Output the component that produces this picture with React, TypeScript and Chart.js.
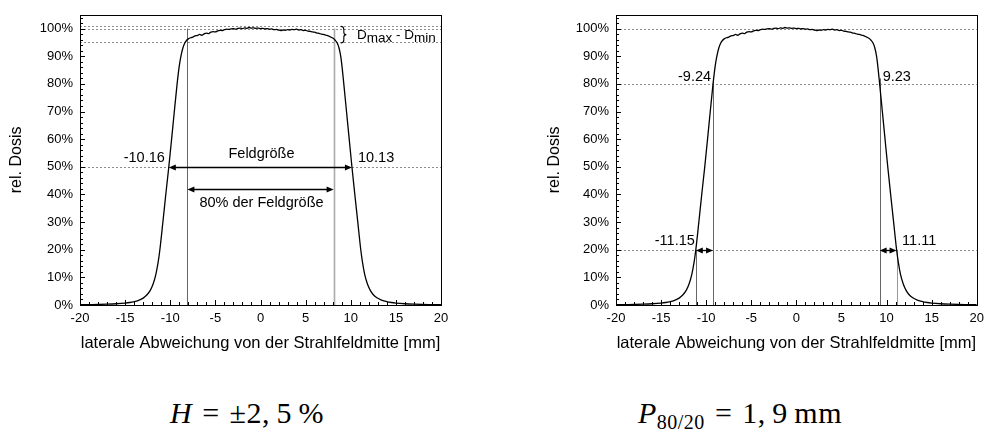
import React, { useEffect, useRef } from 'react';
import { Chart, registerables } from 'chart.js';

Chart.register(...registerables);

// ---- data -------------------------------------------------------------
const profileX = [
  -20, -19, -18, -17, -16, -15, -14.5, -14, -13.5, -13,
  -12.6, -12.2, -11.9, -11.6, -11.35, -11.15, -10.8, -10.5, -10.16, -9.85,
  -9.55, -9.24, -9.0, -8.8, -8.6, -8.4, -8.2, -8.0, -7.75, -7.5,
  -7.25, -7.0, -6.75, -6.5, -6.25, -6.0, -5.75, -5.5, -5.25, -5.0,
  -4.75, -4.5, -4.25, -4.0, -3.75, -3.5, -3.25, -3.0, -2.75, -2.5,
  -2.25, -2.0, -1.75, -1.5, -1.25, -1.0, -0.75, -0.5, -0.25, 0,
  0.25, 0.5, 0.75, 1.0, 1.25, 1.5, 1.75, 2.0, 2.25, 2.5,
  2.75, 3.0, 3.25, 3.5, 3.75, 4.0, 4.25, 4.5, 4.75, 5.0,
  5.25, 5.5, 5.75, 6.0, 6.25, 6.5, 6.75, 7.0, 7.25, 7.5,
  7.75, 8.0, 8.25, 8.5, 8.7, 8.9, 9.05, 9.23, 9.53, 9.83,
  10.13, 10.45, 10.78, 11.11, 11.3, 11.55, 11.85, 12.15, 12.5, 12.9,
  13.4, 14, 14.5, 15, 16, 17, 18, 19, 20,
];
const profileY = [
  0.1, 0.15, 0.2, 0.3, 0.45, 0.7, 0.9, 1.2, 1.7, 2.5,
  3.6, 5.4, 7.6, 11, 15.3, 20, 30.5, 39.8, 50, 60,
  70, 80, 86.5, 90.3, 93, 94.7, 95.7, 96.3, 96.7, 96.9,
  97.4, 97.5, 97.9, 97.6, 98.1, 98.4, 98.2, 98.7, 98.9, 98.8,
  99.2, 99.4, 99.3, 99.6, 99.8, 99.7, 99.9, 100.0, 99.8, 100.1,
  100.2, 100.0, 100.3, 100.1, 100.4, 100.2, 100.3, 100.1, 100.2, 100.0,
  100.1, 99.9, 100.0, 99.8, 99.9, 99.6, 99.7, 99.5, 99.3, 99.5,
  99.4, 99.6, 99.5, 99.7, 99.6, 99.8, 99.5, 99.6, 99.3, 99.4,
  99.1, 99.0, 98.8, 98.7, 98.4, 98.3, 98.0, 97.9, 97.6, 97.4,
  97.0, 96.6, 95.9, 94.8, 93.0, 89.8, 85.8, 80, 70, 60,
  50, 40, 30, 20, 15.5, 11, 7.6, 5.4, 3.7, 2.6,
  1.8, 1.2, 0.9, 0.7, 0.45, 0.3, 0.2, 0.15, 0.1,
];

const xTickValues = [-20, -15, -10, -5, 0, 5, 10, 15, 20];
const yTickValues = [0, 10, 20, 30, 40, 50, 60, 70, 80, 90, 100];

// annotation values
const fieldEdges50 = [-10.16, 10.13]; // 50 % -> Feldgröße
const innerField80 = [-8.1, 8.1]; // 80 % der Feldgröße
const dMaxLevel = 100.8;
const dMinLevel = 95;
const penumbra80 = [-9.24, 9.23];
const penumbra20 = [-11.15, 11.11];
const fieldLabels = ['-10.16', '10.13'];
const penumbra80Labels = ['-9.24', '9.23'];
const penumbra20Labels = ['-11.15', '11.11'];

const xTitle = 'laterale Abweichung von der Strahlfeldmitte [mm]';
const yTitle = 'rel. Dosis';

// ---- styling ----------------------------------------------------------
const FONT = '"Liberation Sans", Arial, Helvetica, sans-serif';
const X_MIN = -20;
const X_MAX = 20;
const Y_MAX = 105;

function hDotted(ctx: any, area: any, y: number) {
  ctx.save();
  ctx.setLineDash([2, 2]);
  ctx.strokeStyle = '#8c8c8c';
  ctx.lineWidth = 1;
  const py = Math.round(y) + 0.5;
  ctx.beginPath();
  ctx.moveTo(area.left, py);
  ctx.lineTo(area.right, py);
  ctx.stroke();
  ctx.restore();
}

function vLine(ctx: any, x: number, y0: number, y1: number, color: string, w: number) {
  ctx.save();
  ctx.strokeStyle = color;
  ctx.lineWidth = w;
  const px = Math.round(x) + 0.5;
  ctx.beginPath();
  ctx.moveTo(px, y0);
  ctx.lineTo(px, y1);
  ctx.stroke();
  ctx.restore();
}

function arrow(ctx: any, x0: number, x1: number, y: number) {
  const py = Math.round(y) + 0.5;
  const hl = 7;
  const hw = 3;
  ctx.save();
  ctx.strokeStyle = '#000';
  ctx.fillStyle = '#000';
  ctx.lineWidth = 1.3;
  ctx.beginPath();
  ctx.moveTo(x0 + hl - 1, py);
  ctx.lineTo(x1 - hl + 1, py);
  ctx.stroke();
  ctx.beginPath();
  ctx.moveTo(x0, py);
  ctx.lineTo(x0 + hl, py - hw);
  ctx.lineTo(x0 + hl, py + hw);
  ctx.closePath();
  ctx.fill();
  ctx.beginPath();
  ctx.moveTo(x1, py);
  ctx.lineTo(x1 - hl, py - hw);
  ctx.lineTo(x1 - hl, py + hw);
  ctx.closePath();
  ctx.fill();
  ctx.restore();
}

function label(ctx: any, s: string, x: number, y: number, align: string, size = 14.5) {
  ctx.save();
  ctx.font = `${size}px ${FONT}`;
  ctx.textAlign = align;
  ctx.textBaseline = 'alphabetic';
  ctx.fillStyle = '#000';
  ctx.fillText(s, x, y);
  ctx.restore();
}

function frameAndTicks(chart: any) {
  const { ctx, chartArea: a, scales } = chart;
  const xs = scales.x;
  const ys = scales.y;
  ctx.save();
  ctx.strokeStyle = '#000';
  ctx.lineWidth = 1;
  ctx.beginPath();
  for (let v = X_MIN; v <= X_MAX; v += 1) {
    const px = Math.round(xs.getPixelForValue(v)) + 0.5;
    const len = v % 5 === 0 ? 5 : 3;
    ctx.moveTo(px, a.bottom);
    ctx.lineTo(px, a.bottom - len);
  }
  for (let v = 0; v <= 104; v += 2) {
    const py = Math.round(ys.getPixelForValue(v)) + 0.5;
    const len = v % 10 === 0 ? 5 : 3;
    ctx.moveTo(a.left, py);
    ctx.lineTo(a.left + len, py);
  }
  ctx.stroke();
  ctx.strokeRect(
    Math.round(a.left) + 0.5,
    Math.round(a.top) + 0.5,
    Math.round(a.right - a.left),
    Math.round(a.bottom - a.top)
  );
  ctx.restore();
}

const fieldOverlay = {
  id: 'fieldOverlay',
  beforeDatasetsDraw(chart: any) {
    const { ctx, chartArea: a, scales } = chart;
    const X = (v: number) => scales.x.getPixelForValue(v);
    const Y = (v: number) => scales.y.getPixelForValue(v);
    hDotted(ctx, a, Y(dMaxLevel));
    hDotted(ctx, a, Y(100));
    hDotted(ctx, a, Y(dMinLevel));
    hDotted(ctx, a, Y(50));
    vLine(ctx, X(innerField80[0]), Y(100), a.bottom, '#666', 1);
    vLine(ctx, X(innerField80[1]), Y(100), a.bottom, '#aaa', 1.6);
  },
  afterDatasetsDraw(chart: any) {
    const { ctx, scales } = chart;
    const X = (v: number) => scales.x.getPixelForValue(v);
    const Y = (v: number) => scales.y.getPixelForValue(v);
    const y50 = Y(50);
    arrow(ctx, X(fieldEdges50[0]), X(fieldEdges50[1]), y50);
    const yInner = Y(42);
    arrow(ctx, X(innerField80[0]), X(innerField80[1]), yInner);
    label(ctx, 'Feldgröße', X(0) + 1, y50 - 9, 'center');
    label(ctx, '80% der Feldgröße', X(0) + 1, yInner + 18.5, 'center');
    label(ctx, fieldLabels[0], X(fieldEdges50[0]) - 4, y50 - 4.5, 'right');
    label(ctx, fieldLabels[1], X(fieldEdges50[1]) + 6, y50 - 4.5, 'left');
    // brace
    const top = Y(dMaxLevel);
    const bot = Y(dMinLevel) + 0.5;
    const mid = (top + bot) / 2;
    const bx = X(8.9);
    ctx.save();
    ctx.strokeStyle = '#000';
    ctx.lineWidth = 1.1;
    ctx.beginPath();
    ctx.moveTo(bx, top);
    ctx.quadraticCurveTo(bx + 3, top, bx + 3, top + 3);
    ctx.lineTo(bx + 3, mid - 2.5);
    ctx.quadraticCurveTo(bx + 3, mid, bx + 5.5, mid);
    ctx.quadraticCurveTo(bx + 3, mid, bx + 3, mid + 2.5);
    ctx.lineTo(bx + 3, bot - 3);
    ctx.quadraticCurveTo(bx + 3, bot, bx, bot);
    ctx.stroke();
    ctx.restore();
    // D_max - D_min
    ctx.save();
    ctx.fillStyle = '#000';
    ctx.textBaseline = 'alphabetic';
    ctx.textAlign = 'left';
    let tx = X(10.7);
    const base = mid + 4.5;
    const parts: [string, number][] = [
      ['D', 0], ['max', 3.3], [' - ', 0], ['D', 0], ['min', 3.3],
    ];
    for (const [s, dy] of parts) {
      ctx.font = `13.5px ${FONT}`;
      ctx.fillText(s, tx, base + dy);
      tx += ctx.measureText(s).width;
    }
    ctx.restore();
    frameAndTicks(chart);
  },
};

const penumbraOverlay = {
  id: 'penumbraOverlay',
  beforeDatasetsDraw(chart: any) {
    const { ctx, chartArea: a, scales } = chart;
    const X = (v: number) => scales.x.getPixelForValue(v);
    const Y = (v: number) => scales.y.getPixelForValue(v);
    hDotted(ctx, a, Y(100));
    hDotted(ctx, a, Y(80));
    hDotted(ctx, a, Y(20));
    vLine(ctx, X(penumbra80[0]), Y(82), a.bottom, '#666', 1);
    vLine(ctx, X(penumbra80[1]), Y(82), a.bottom, '#666', 1);
    vLine(ctx, X(penumbra20[0]), Y(20), a.bottom, '#666', 1);
    vLine(ctx, X(penumbra20[1]), Y(20), a.bottom, '#999', 1);
  },
  afterDatasetsDraw(chart: any) {
    const { ctx, scales } = chart;
    const X = (v: number) => scales.x.getPixelForValue(v);
    const Y = (v: number) => scales.y.getPixelForValue(v);
    const y20 = Y(20);
    const y80 = Y(80);
    arrow(ctx, X(penumbra20[0]), X(penumbra80[0]), y20);
    arrow(ctx, X(penumbra80[1]), X(penumbra20[1]), y20);
    label(ctx, penumbra80Labels[0], X(penumbra80[0]) - 2, y80 - 2.5, 'right');
    label(ctx, penumbra80Labels[1], X(penumbra80[1]) + 3, y80 - 2.5, 'left');
    label(ctx, penumbra20Labels[0], X(penumbra20[0]) - 1, y20 - 5, 'right');
    label(ctx, penumbra20Labels[1], X(penumbra20[1]) + 5.5, y20 - 5, 'left');
    frameAndTicks(chart);
  },
};

function ProfileChart({ left, variant }: { left: number; variant: 'field' | 'penumbra' }) {
  const ref = useRef<HTMLCanvasElement | null>(null);
  useEffect(() => {
    const isField = variant === 'field';
    const padRight = isField ? 54 : 12;
    const yAxisWidth = isField ? 80 : 121;
    const yTitlePad = isField ? 7.4 : 50.4;
    const chart = new Chart(ref.current as HTMLCanvasElement, {
      type: 'line',
      data: {
        datasets: [
          {
            data: profileX.map((x, i) => ({ x, y: profileY[i] })),
            borderColor: '#000',
            borderWidth: 1.3,
            pointRadius: 0,
            fill: false,
            cubicInterpolationMode: 'monotone',
          },
        ],
      },
      options: {
        responsive: false,
        maintainAspectRatio: false,
        animation: false,
        layout: { padding: { left: 0, right: padRight, top: 13, bottom: 0 } },
        plugins: { legend: { display: false }, tooltip: { enabled: false } },
        scales: {
          x: {
            type: 'linear',
            min: X_MIN,
            max: X_MAX,
            afterBuildTicks: (s: any) => {
              s.ticks = xTickValues.map((v) => ({ value: v }));
            },
            afterFit: (s: any) => {
              s.height = 60;
            },
            grid: { display: false, drawTicks: false },
            border: { display: false },
            ticks: {
              padding: 6,
              color: '#000',
              maxRotation: 0,
              autoSkip: false,
              font: { family: FONT, size: 13 },
              callback: (v: any) => String(v),
            },
            title: {
              display: true,
              text: xTitle,
              color: '#000',
              font: { family: FONT, size: 16.5 },
              padding: { top: 0, bottom: 12 },
            },
          },
          y: {
            type: 'linear',
            min: 0,
            max: Y_MAX,
            afterBuildTicks: (s: any) => {
              s.ticks = yTickValues.map((v) => ({ value: v }));
            },
            afterFit: (s: any) => {
              s.width = yAxisWidth;
            },
            grid: { display: false, drawTicks: false },
            border: { display: false },
            ticks: {
              padding: 7,
              color: '#000',
              autoSkip: false,
              font: { family: FONT, size: 13 },
              callback: (v: any) => `${v}%`,
            },
            title: {
              display: true,
              text: yTitle,
              color: '#000',
              font: { family: FONT, size: 16 },
              padding: { top: yTitlePad, bottom: 0 },
            },
          },
        },
      } as any,
      plugins: [isField ? fieldOverlay : penumbraOverlay],
    });
    return () => chart.destroy();
  }, [variant]);
  return (
    <canvas
      ref={ref}
      width={495}
      height={365}
      style={{ position: 'absolute', left, top: 0, width: 495, height: 365 }}
    />
  );
}

const formulaStyle = (cx: number): React.CSSProperties => ({
  position: 'absolute',
  left: cx - 200,
  width: 400,
  top: 398,
  textAlign: 'center',
  fontFamily: '"Liberation Serif", "DejaVu Serif", serif',
  fontSize: 30,
  lineHeight: '30px',
  letterSpacing: '0.5px',
  wordSpacing: '2px',
  color: '#000',
  whiteSpace: 'nowrap',
});

export default function App() {
  return (
    <div
      style={{
        position: 'absolute',
        left: 0,
        top: 0,
        width: 990,
        height: 438,
        background: '#fff',
        overflow: 'hidden',
      }}
    >
      <ProfileChart left={0} variant="field" />
      <ProfileChart left={495} variant="penumbra" />
      <div style={formulaStyle(247)}>
        <i>H</i> = ±2,{'\u2009'}5{'\u2009'}%
      </div>
      <div style={formulaStyle(740)}>
        <i>P</i>
        <span style={{ fontSize: 20, verticalAlign: '-0.3em', lineHeight: 1 }}>80/20</span> = 1,{'\u2009'}9{'\u2009'}mm
      </div>
    </div>
  );
}
